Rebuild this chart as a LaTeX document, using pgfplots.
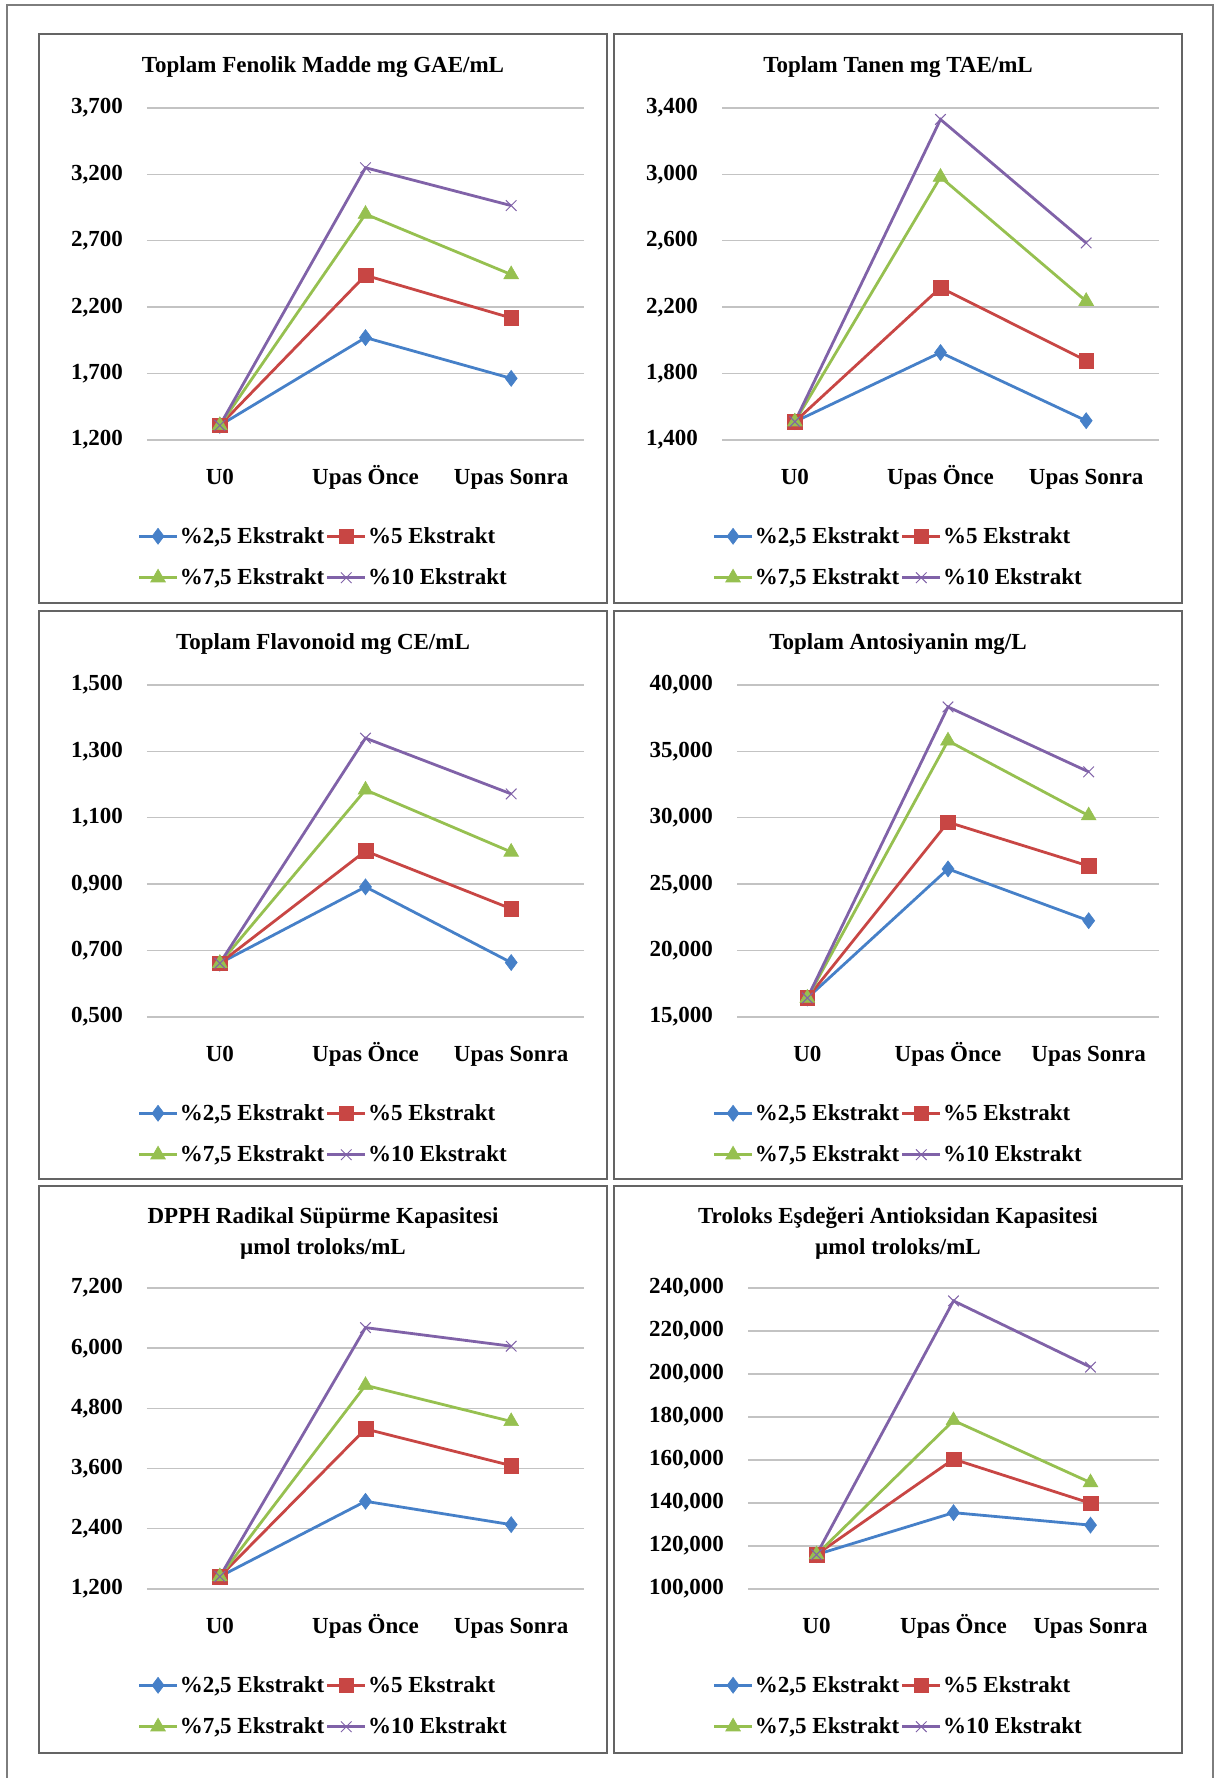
\documentclass[border=0pt]{standalone}
\usepackage{fontspec}
\setmainfont{Liberation Serif}
\usepackage{pgfplots}
\pgfplotsset{compat=1.18}
\definecolor{cblue}{RGB}{70,128,200}
\definecolor{cred}{RGB}{200,70,68}
\definecolor{cgreen}{RGB}{150,192,80}
\definecolor{cpurple}{RGB}{128,98,168}
\definecolor{gridgray}{RGB}{195,195,195}
\definecolor{boxgray}{RGB}{100,100,100}
\definecolor{framegray}{RGB}{125,125,125}
\newcommand{\chfont}{\bfseries\fontsize{23}{27}\selectfont}
\pgfplotsset{
  panel/.style={
    scale only axis,
    xmin=-0.5, xmax=2.5,
    xtick={0,1,2},
    xticklabels={U0, Upas Önce, Upas Sonra},
    axis line style={draw=none},
    major tick style={draw=none},
    ymajorgrids,
    grid style={line width=1.4pt, color=gridgray},
    xticklabel style={anchor=base, yshift=-45pt},
    yticklabel style={anchor=east, inner sep=0pt, xshift=-24pt},
    yticklabel={\pgfmathprintnumber[fixed, fixed zerofill, precision=3, use comma, assume math mode=true]{\tick}},
    ticklabel style={font=\chfont},
    legend columns=2,
    legend cell align=left,
    legend style={draw=none, fill=none, font=\chfont, anchor=center,
      row sep=21pt, nodes={inner sep=1.5pt}},
    clip=false,
    legend image code/.code={\draw[mark repeat=2, mark phase=2] plot coordinates {(0pt,0pt) (19pt,0pt) (38pt,0pt)};},
  },
  sblue/.style={color=cblue, line width=2.8pt, mark=diamond*, mark size=8pt, mark options={solid, line width=0.6pt, fill=cblue}},
  sred/.style={color=cred, line width=2.8pt, mark=square*, mark size=7.3pt, mark options={solid, line width=0.6pt, fill=cred}},
  sgreen/.style={color=cgreen, line width=2.8pt, mark=triangle*, mark size=8.5pt, mark options={solid, line width=0.6pt, fill=cgreen}},
  spurple/.style={color=cpurple, line width=2.8pt, mark=x, mark size=7.5pt, mark options={solid, line width=1pt}},
}
\newcommand{\legs}{%
  \addlegendentry{\%2,5 Ekstrakt}
  \addlegendentry{\%5 Ekstrakt}
  \addlegendentry{\%7,5 Ekstrakt}
  \addlegendentry{\%10 Ekstrakt}}
\begin{document}
\begin{tikzpicture}
\useasboundingbox (0pt,0pt) rectangle (1218pt,1778pt);
% outer frame
\draw[framegray, line width=2.2pt] (7pt,-10pt) -- (7pt,1773pt) -- (1213pt,1773pt) -- (1213pt,-10pt);
% panel boxes
\foreach \l/\r in {39/607, 614/1182}{
  \draw[boxgray, line width=2.6pt] (\l pt,1744pt) rectangle (\r pt,1175pt);
  \draw[boxgray, line width=2.6pt] (\l pt,1167pt) rectangle (\r pt,599pt);
  \draw[boxgray, line width=2.6pt] (\l pt,592pt) rectangle (\r pt,25pt);
}
% titles
\node[font=\chfont] at (323pt,1711pt) {Toplam Fenolik Madde mg GAE/mL};
\node[font=\chfont] at (898pt,1711pt) {Toplam Tanen mg TAE/mL};
\node[font=\chfont] at (323pt,1134pt) {Toplam Flavonoid mg CE/mL};
\node[font=\chfont] at (898pt,1134pt) {Toplam Antosiyanin mg/L};
\node[font=\bfseries\fontsize{23}{31}\selectfont, align=center] at (323pt,545pt) {DPPH Radikal Süpürme Kapasitesi\\µmol troloks/mL};
\node[font=\bfseries\fontsize{23}{31}\selectfont, align=center] at (898pt,545pt) {Troloks Eşdeğeri Antioksidan Kapasitesi\\µmol troloks/mL};

% Panel 1
\begin{axis}[panel, at={(147pt,1338pt)}, anchor=south west, width=437pt, height=332pt,
  ymin=1.2, ymax=3.7, ytick={1.2,1.7,2.2,2.7,3.2,3.7},
  legend style={at={(axis description cs:0.4027,-0.3524)}}]
\addplot[sblue] coordinates {(0,1.310) (1,1.971) (2,1.664)};
\addplot[sred] coordinates {(0,1.310) (1,2.440) (2,2.119)};
\addplot[sgreen] coordinates {(0,1.310) (1,2.901) (2,2.446)};
\addplot[spurple] coordinates {(0,1.310) (1,3.250) (2,2.965)};
\legs
\end{axis}

% Panel 2
\begin{axis}[panel, at={(722pt,1338pt)}, anchor=south west, width=437pt, height=332pt,
  ymin=1.4, ymax=3.4, ytick={1.4,1.8,2.2,2.6,3.0,3.4},
  legend style={at={(axis description cs:0.4027,-0.3524)}}]
\addplot[sblue] coordinates {(0,1.510) (1,1.927) (2,1.516)};
\addplot[sred] coordinates {(0,1.510) (1,2.318) (2,1.878)};
\addplot[sgreen] coordinates {(0,1.510) (1,2.984) (2,2.236)};
\addplot[spurple] coordinates {(0,1.510) (1,3.331) (2,2.587)};
\legs
\end{axis}

% Panel 3
\begin{axis}[panel, at={(147pt,761pt)}, anchor=south west, width=437pt, height=332pt,
  ymin=0.5, ymax=1.5, ytick={0.5,0.7,0.9,1.1,1.3,1.5},
  legend style={at={(axis description cs:0.4027,-0.3524)}}]
\addplot[sblue] coordinates {(0,0.662) (1,0.892) (2,0.664)};
\addplot[sred] coordinates {(0,0.662) (1,1.000) (2,0.826)};
\addplot[sgreen] coordinates {(0,0.662) (1,1.184) (2,0.997)};
\addplot[spurple] coordinates {(0,0.662) (1,1.340) (2,1.172)};
\legs
\end{axis}

% Panel 4
\begin{axis}[panel, at={(737pt,761pt)}, anchor=south west, width=422pt, height=332pt,
  ymin=15, ymax=40, ytick={15,20,25,30,35,40},
  legend style={at={(axis description cs:0.3815,-0.3524)}}]
\addplot[sblue] coordinates {(0,16.43) (1,26.15) (2,22.25)};
\addplot[sred] coordinates {(0,16.43) (1,29.67) (2,26.37)};
\addplot[sgreen] coordinates {(0,16.43) (1,35.80) (2,30.16)};
\addplot[spurple] coordinates {(0,16.43) (1,38.35) (2,33.46)};
\legs
\end{axis}

% Panel 5
\begin{axis}[panel, at={(147pt,189pt)}, anchor=south west, width=437pt, height=301pt,
  ymin=1.2, ymax=7.2, ytick={1.2,2.4,3.6,4.8,6.0,7.2},
  xticklabel style={yshift=1pt},
  legend style={at={(axis description cs:0.4027,-0.3887)}}]
\addplot[sblue] coordinates {(0,1.448) (1,2.948) (2,2.483)};
\addplot[sred] coordinates {(0,1.448) (1,4.390) (2,3.660)};
\addplot[sgreen] coordinates {(0,1.448) (1,5.260) (2,4.540)};
\addplot[spurple] coordinates {(0,1.448) (1,6.410) (2,6.040)};
\legs
\end{axis}

% Panel 6
\begin{axis}[panel, at={(748pt,189pt)}, anchor=south west, width=411pt, height=301pt,
  ymin=100, ymax=240, ytick={100,120,140,160,180,200,220,240},
  xticklabel style={yshift=1pt},
  legend style={at={(axis description cs:0.365,-0.3887)}}]
\addplot[sblue] coordinates {(0,116.0) (1,135.5) (2,129.7)};
\addplot[sred] coordinates {(0,116.0) (1,160.4) (2,139.9)};
\addplot[sgreen] coordinates {(0,116.0) (1,178.4) (2,149.5)};
\addplot[spurple] coordinates {(0,116.0) (1,234.0) (2,203.2)};
\legs
\end{axis}
\end{tikzpicture}
\end{document}
